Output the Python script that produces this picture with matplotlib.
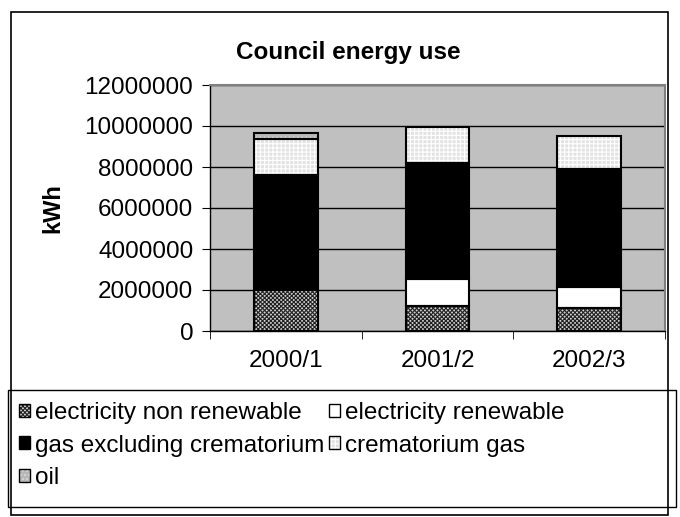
import numpy as np
import matplotlib.pyplot as plt
from matplotlib.patches import Patch, Rectangle
from matplotlib.legend_handler import HandlerTuple

plt.rcParams['font.family'] = ['Liberation Sans', 'DejaVu Sans']
plt.rcParams['hatch.linewidth'] = 0.8

years = ["2000/1", "2001/2", "2002/3"]
elec_nonren = [1980000, 1200000, 1100000]
elec_ren = [0, 1320000, 1030000]
gas_excl = [5650000, 5690000, 5770000]
crem_gas = [1750000, 1740000, 1600000]
oil = [270000, 0, 0]
yticks = [0, 2000000, 4000000, 6000000, 8000000, 10000000, 12000000]

# (label, values, face, hatch, hatch colour)
series = [
    ("electricity non renewable", elec_nonren, "#d0d0d0", "xxxxxxxx", "#202020"),
    ("electricity renewable", elec_ren, "white", None, "white"),
    ("gas excluding crematorium", gas_excl, "black", None, "black"),
    ("crematorium gas", crem_gas, "#e2e2e2", "++++", "white"),
    ("oil", oil, "#b8b8b8", "....", "#dadada"),
]

fig = plt.figure(figsize=(6.8, 5.17), dpi=100)
ax = fig.add_axes([210/680, 1-331/517, 455/680, 246/517])
ax.set_facecolor("#c0c0c0")

x = np.arange(len(years))
width = 0.42
bottom = np.zeros(len(years))
handles = {}
for label, vals, face, hatch, hcol in series:
    vals = np.array(vals, dtype=float)
    ax.bar(x, vals, width, bottom=bottom, color=face, hatch=hatch,
           edgecolor=hcol, linewidth=0, zorder=3)
    keep = vals > 0
    ax.bar(x[keep], vals[keep], width, bottom=bottom[keep], fill=False,
           edgecolor="black", linewidth=1.5, zorder=4)
    bottom += vals
    handles[label] = (Patch(facecolor=face, hatch=hatch, edgecolor=hcol, linewidth=0),
                      Patch(fill=False, edgecolor="black", linewidth=1))

ax.set_xlim(-0.5, 2.5)
ax.set_ylim(0, 12000000)
ax.set_yticks(yticks)
ax.set_yticklabels([str(v) for v in yticks])
ax.yaxis.grid(True, color="black", linewidth=1)
ax.set_axisbelow(True)
ax.tick_params(axis="y", labelsize=17.5, length=6, pad=6)

ax.set_xticks(x)
ax.set_xticklabels(years)
ax.set_xticks([-0.5, 0.5, 1.5, 2.5], minor=True)
ax.tick_params(axis="x", which="major", length=0, labelsize=17.5, pad=14)
ax.tick_params(axis="x", which="minor", length=6)
for s in ax.spines.values():
    s.set_color("#808080")
    s.set_linewidth(1.5)
ax.spines["left"].set_color("black")
ax.spines["bottom"].set_color("black")
ax.spines["left"].set_linewidth(1)
ax.spines["bottom"].set_linewidth(1)

fig.text(348/680, 1-52/517, "Council energy use", ha="center", va="center",
         fontsize=17.5, fontweight="bold")
fig.text(53/680, 1-208/517, "kWh", ha="center", va="center", rotation=90,
         fontsize=17, fontweight="bold")

# legend fills columns first, so list the left column then the right one
order = ["electricity non renewable", "gas excluding crematorium", "oil",
         "electricity renewable", "crematorium gas"]
leg = fig.legend([handles[k] for k in order], order, ncol=2,
                 loc="upper left", bbox_to_anchor=(14/680, 1-397/517),
                 fontsize=17.5,
                 handler_map={tuple: HandlerTuple(ndivide=1, pad=0)},
                 handlelength=0.45, handleheight=0.45, handletextpad=0.2,
                 columnspacing=0.2, labelspacing=0.44, borderpad=0.2,
                 borderaxespad=0, frameon=False)

# legend box and outer chart border
fig.patches.append(Rectangle((8/680, 1-507/517), 668/680, 117/517,
                             transform=fig.transFigure, fill=False,
                             edgecolor="black", linewidth=1))
fig.patches.append(Rectangle((11/680, 1-515/517), 657/680, 503/517,
                             transform=fig.transFigure, fill=False,
                             edgecolor="black", linewidth=1.2))

fig.savefig("out.png", dpi=100)
